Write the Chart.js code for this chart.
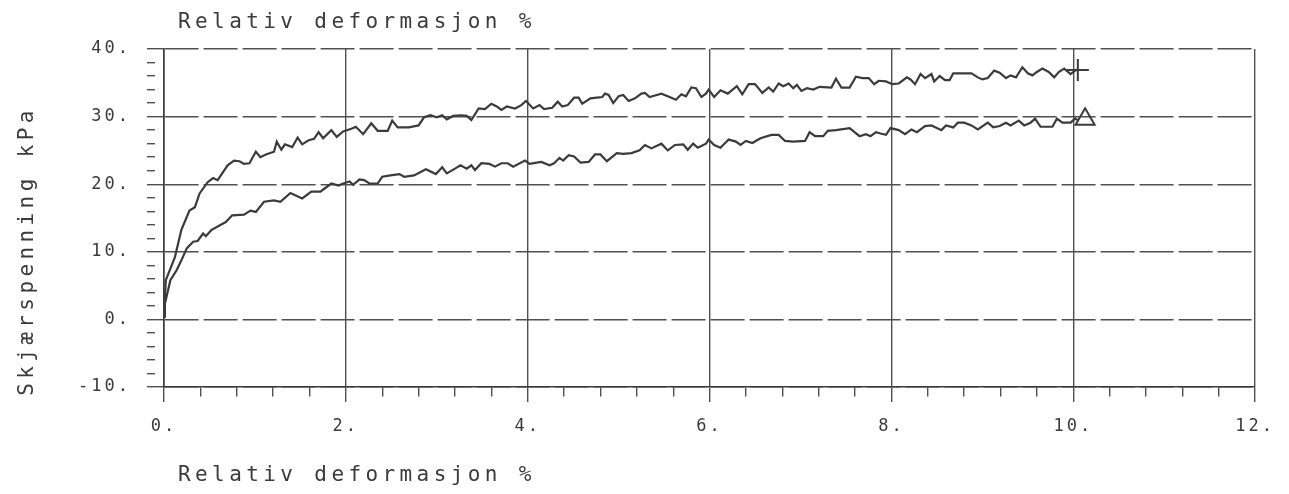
<!DOCTYPE html>
<html>
<head>
<meta charset="utf-8">
<script src="https://cdn.jsdelivr.net/npm/chart.js@4"></script>
<style>
  html, body { margin: 0; padding: 0; background: #fff; }
  #wrap { width: 1289px; height: 494px; }
</style>
</head>
<body>
<div id="wrap"><canvas id="shear-chart" width="1289" height="494"></canvas></div>
<script>
// Relativ deformasjon (%) og skjærspenning (kPa), avlest fra plottet
const strainA = [0, 0.02, 0.12, 0.19, 0.28, 0.34, 0.39, 0.48, 0.54, 0.59,
  0.70, 0.77, 0.83, 0.88, 0.94, 1.01, 1.06, 1.12, 1.21, 1.24,
  1.29, 1.33, 1.41, 1.47, 1.52, 1.59, 1.65, 1.70, 1.75, 1.84,
  1.90, 1.97, 2.06, 2.11, 2.19, 2.28, 2.35, 2.46, 2.51, 2.57,
  2.69, 2.80, 2.86, 2.93, 3.00, 3.06, 3.11, 3.18, 3.27, 3.33,
  3.38, 3.46, 3.53, 3.60, 3.66, 3.71, 3.77, 3.86, 3.93, 3.98,
  4.06, 4.13, 4.18, 4.27, 4.33, 4.38, 4.44, 4.51, 4.56, 4.60,
  4.69, 4.76, 4.82, 4.85, 4.89, 4.94, 5.00, 5.05, 5.11, 5.18,
  5.25, 5.29, 5.34, 5.42, 5.47, 5.54, 5.63, 5.69, 5.74, 5.80,
  5.85, 5.91, 5.96, 5.99, 6.05, 6.12, 6.20, 6.30, 6.36, 6.43,
  6.50, 6.58, 6.65, 6.70, 6.76, 6.81, 6.87, 6.92, 6.96, 7.01,
  7.07, 7.14, 7.21, 7.34, 7.39, 7.45, 7.54, 7.61, 7.68, 7.75,
  7.81, 7.86, 7.94, 8.01, 8.08, 8.17, 8.21, 8.26, 8.32, 8.37,
  8.44, 8.47, 8.53, 8.59, 8.64, 8.68, 8.88, 8.95, 9.00, 9.06,
  9.13, 9.19, 9.26, 9.31, 9.37, 9.44, 9.50, 9.55, 9.60, 9.66,
  9.73, 9.79, 9.84, 9.90, 9.97, 10.04];
const stressA = [0.4, 5.8, 9.2, 13.2, 16.1, 16.6, 18.6, 20.3, 20.9, 20.6,
  22.8, 23.5, 23.4, 23.0, 23.1, 24.8, 24.0, 24.4, 24.8, 26.3,
  25.1, 25.9, 25.5, 26.9, 25.9, 26.5, 26.7, 27.7, 26.8, 28.0,
  27.0, 27.8, 28.2, 28.5, 27.4, 29.0, 27.9, 27.9, 29.4, 28.4,
  28.4, 28.7, 29.9, 30.2, 29.9, 30.2, 29.6, 30.1, 30.2, 30.1,
  29.5, 31.2, 31.1, 31.9, 31.5, 31.0, 31.5, 31.2, 31.7, 32.3,
  31.2, 31.7, 31.1, 31.3, 32.2, 31.5, 31.7, 32.8, 32.8, 31.9,
  32.7, 32.8, 32.9, 33.4, 33.2, 32.0, 33.0, 33.2, 32.3, 32.7,
  33.4, 33.5, 32.9, 33.2, 33.4, 33.0, 32.5, 33.3, 33.0, 34.3,
  34.2, 32.9, 33.4, 34.0, 32.9, 33.9, 33.4, 34.5, 33.3, 34.8,
  34.8, 33.5, 34.3, 33.7, 34.9, 34.5, 34.9, 34.2, 34.7, 33.8,
  34.2, 34.0, 34.4, 34.3, 35.6, 34.3, 34.3, 35.9, 35.7, 35.7,
  34.8, 35.3, 35.2, 34.8, 34.9, 35.8, 35.5, 34.8, 36.3, 35.7,
  36.3, 35.2, 36.0, 35.4, 35.4, 36.4, 36.4, 35.8, 35.5, 35.7,
  36.8, 36.5, 35.7, 36.1, 35.8, 37.3, 36.4, 36.1, 36.6, 37.1,
  36.6, 35.8, 36.6, 37.1, 36.3, 37.0];

const strainB = [0, 0.01, 0.07, 0.14, 0.19, 0.25, 0.32, 0.37, 0.43, 0.46,
  0.52, 0.61, 0.68, 0.75, 0.88, 0.95, 1.01, 1.10, 1.21, 1.28,
  1.39, 1.52, 1.62, 1.72, 1.77, 1.84, 1.92, 1.97, 2.04, 2.08,
  2.15, 2.20, 2.26, 2.35, 2.40, 2.49, 2.59, 2.64, 2.75, 2.88,
  2.99, 3.06, 3.11, 3.20, 3.26, 3.33, 3.38, 3.42, 3.49, 3.58,
  3.64, 3.71, 3.78, 3.84, 3.97, 4.02, 4.10, 4.15, 4.24, 4.29,
  4.35, 4.39, 4.45, 4.51, 4.58, 4.67, 4.74, 4.80, 4.87, 4.98,
  5.05, 5.14, 5.23, 5.29, 5.36, 5.47, 5.54, 5.62, 5.71, 5.76,
  5.82, 5.87, 5.96, 5.99, 6.05, 6.12, 6.21, 6.29, 6.34, 6.40,
  6.47, 6.56, 6.68, 6.76, 6.83, 6.92, 7.05, 7.10, 7.16, 7.25,
  7.30, 7.39, 7.54, 7.65, 7.72, 7.77, 7.83, 7.88, 7.94, 7.99,
  8.08, 8.15, 8.22, 8.28, 8.37, 8.44, 8.55, 8.60, 8.68, 8.73,
  8.80, 8.88, 8.95, 9.06, 9.12, 9.19, 9.26, 9.31, 9.40, 9.46,
  9.53, 9.58, 9.64, 9.77, 9.82, 9.88, 9.97, 10.02, 10.06];
const stressB = [0.4, 2.3, 5.8, 7.3, 8.7, 10.5, 11.5, 11.6, 12.7, 12.3,
  13.2, 13.9, 14.4, 15.4, 15.5, 16.1, 15.9, 17.4, 17.6, 17.4,
  18.7, 17.9, 18.9, 18.9, 19.4, 20.1, 19.8, 20.1, 20.4, 19.9,
  20.7, 20.6, 20.1, 20.1, 21.1, 21.3, 21.5, 21.1, 21.3, 22.2,
  21.5, 22.5, 21.6, 22.3, 22.8, 22.3, 22.8, 22.1, 23.1, 23.0,
  22.6, 23.1, 23.1, 22.6, 23.5, 23.0, 23.2, 23.3, 22.8, 23.1,
  23.9, 23.5, 24.3, 24.1, 23.2, 23.3, 24.4, 24.4, 23.4, 24.6,
  24.5, 24.6, 25.0, 25.8, 25.3, 26.0, 25.0, 25.8, 25.9, 25.1,
  26.0, 25.4, 26.0, 26.6, 25.8, 25.4, 26.6, 26.3, 25.8, 26.4,
  26.1, 26.8, 27.3, 27.3, 26.4, 26.3, 26.4, 27.7, 27.1, 27.1,
  27.9, 28.0, 28.3, 27.1, 27.4, 27.1, 27.7, 27.5, 27.3, 28.3,
  28.0, 27.4, 28.1, 27.7, 28.6, 28.7, 28.0, 28.7, 28.4, 29.1,
  29.1, 28.7, 28.1, 29.1, 28.4, 28.6, 29.1, 28.7, 29.4, 28.7,
  29.1, 29.7, 28.5, 28.5, 29.7, 29.1, 29.1, 29.7, 29.4];

// symbolene (+ og trekant) ved enden av kurvene
const endStrain = [10.05, 10.13];
const endStress = [36.9, 29.6];

// akser
const xMajor = [0, 2, 4, 6, 8, 10, 12];
const yMajor = [-10, 0, 10, 20, 30, 40];
const xTitle = 'Relativ deformasjon %';
const yTitle = 'Skjærspenning kPa';

const ink = '#3b3b3b';
const gridInk = '#505050';
const monoFont = '"DejaVu Sans Mono", "Liberation Mono", monospace';

function toPoints(xs, ys) {
    return xs.map((x, i) => ({ x: x, y: ys[i] }));
}

function isMajor(list, v) {
    return list.some(m => Math.abs(m - v) < 1e-6);
}

// Skrifttypen i originalen er bred, så vi bruker ekstra bokstavavstand
const spacingPlugin = {
    id: 'spacing',
    beforeUpdate(chart) { chart.ctx.letterSpacing = '3px'; },
    beforeDraw(chart) { chart.ctx.letterSpacing = '3px'; }
};

// Titlene tegnes selv for å treffe plasseringen i originalen
const titlesPlugin = {
    id: 'titles',
    afterDraw(chart) {
        const { ctx, chartArea } = chart;
        ctx.save();
        ctx.letterSpacing = '4.4px';
        ctx.font = '21px ' + monoFont;
        ctx.fillStyle = ink;
        ctx.textAlign = 'left';
        ctx.textBaseline = 'alphabetic';
        ctx.fillText(xTitle, chartArea.left + 14, chartArea.top - 21);
        ctx.fillText(xTitle, chartArea.left + 14, chartArea.bottom + 94);
        ctx.translate(28, (chartArea.top + chartArea.bottom) / 2 + 33);
        ctx.rotate(-Math.PI / 2);
        ctx.textAlign = 'center';
        ctx.textBaseline = 'middle';
        ctx.fillText(yTitle, 0, 0);
        ctx.restore();
    }
};

const curveStyle = {
    showLine: true,
    borderColor: ink,
    borderWidth: 2.2,
    pointRadius: 0,
    tension: 0,
    fill: false
};

const ctx = document.getElementById('shear-chart').getContext('2d');

new Chart(ctx, {
    type: 'scatter',
    data: {
        datasets: [
            Object.assign({ label: 'Prøve 1', data: toPoints(strainA, stressA) }, curveStyle),
            Object.assign({ label: 'Prøve 2', data: toPoints(strainB, stressB) }, curveStyle),
            {
                label: 'Slutt 1',
                data: toPoints(endStrain.slice(0, 1), endStress.slice(0, 1)),
                pointStyle: 'cross',
                pointRadius: 11,
                borderColor: ink,
                borderWidth: 2
            },
            {
                label: 'Slutt 2',
                data: toPoints(endStrain.slice(1), endStress.slice(1)),
                pointStyle: 'triangle',
                pointRadius: 11,
                borderColor: ink,
                backgroundColor: 'rgba(0,0,0,0)',
                borderWidth: 2
            }
        ]
    },
    plugins: [spacingPlugin, titlesPlugin],
    options: {
        responsive: false,
        animation: false,
        events: [],
        layout: { padding: { left: 0, top: 49, right: 22, bottom: 0 } },
        plugins: {
            legend: { display: false },
            tooltip: { enabled: false }
        },
        scales: {
            x: {
                type: 'linear',
                min: 0,
                max: 12,
                afterFit: scale => { scale.height = 107; },
                border: { display: true, color: ink, width: 1.6 },
                grid: {
                    color: c => isMajor(xMajor, c.tick.value) ? gridInk : 'rgba(0,0,0,0)',
                    lineWidth: 1.4,
                    tickColor: gridInk,
                    tickWidth: 1.4,
                    tickLength: 15,
                    tickBorderDash: c => isMajor(xMajor, c.tick.value) ? [] : [9, 100]
                },
                ticks: {
                    stepSize: 0.4,
                    maxTicksLimit: 100,
                    autoSkip: false,
                    maxRotation: 0,
                    padding: 14,
                    color: ink,
                    font: { family: monoFont, size: 17 },
                    callback: v => isMajor(xMajor, v) ? v + '.' : ''
                }
            },
            y: {
                type: 'linear',
                min: -10,
                max: 40,
                afterFit: scale => { scale.width = 164; },
                border: { display: true, color: ink, width: 1.6, dash: [34, 5] },
                grid: {
                    color: c => isMajor(yMajor, c.tick.value) ? gridInk : 'rgba(0,0,0,0)',
                    lineWidth: 1.4,
                    tickColor: gridInk,
                    tickWidth: 1.4,
                    tickLength: 17,
                    tickBorderDash: c => isMajor(yMajor, c.tick.value) ? [] : [8, 100]
                },
                ticks: {
                    stepSize: 2,
                    maxTicksLimit: 100,
                    autoSkip: false,
                    padding: 16,
                    color: ink,
                    font: { family: monoFont, size: 17 },
                    callback: v => isMajor(yMajor, v) ? v + '.' : ''
                }
            }
        }
    }
});
</script>
</body>
</html>
